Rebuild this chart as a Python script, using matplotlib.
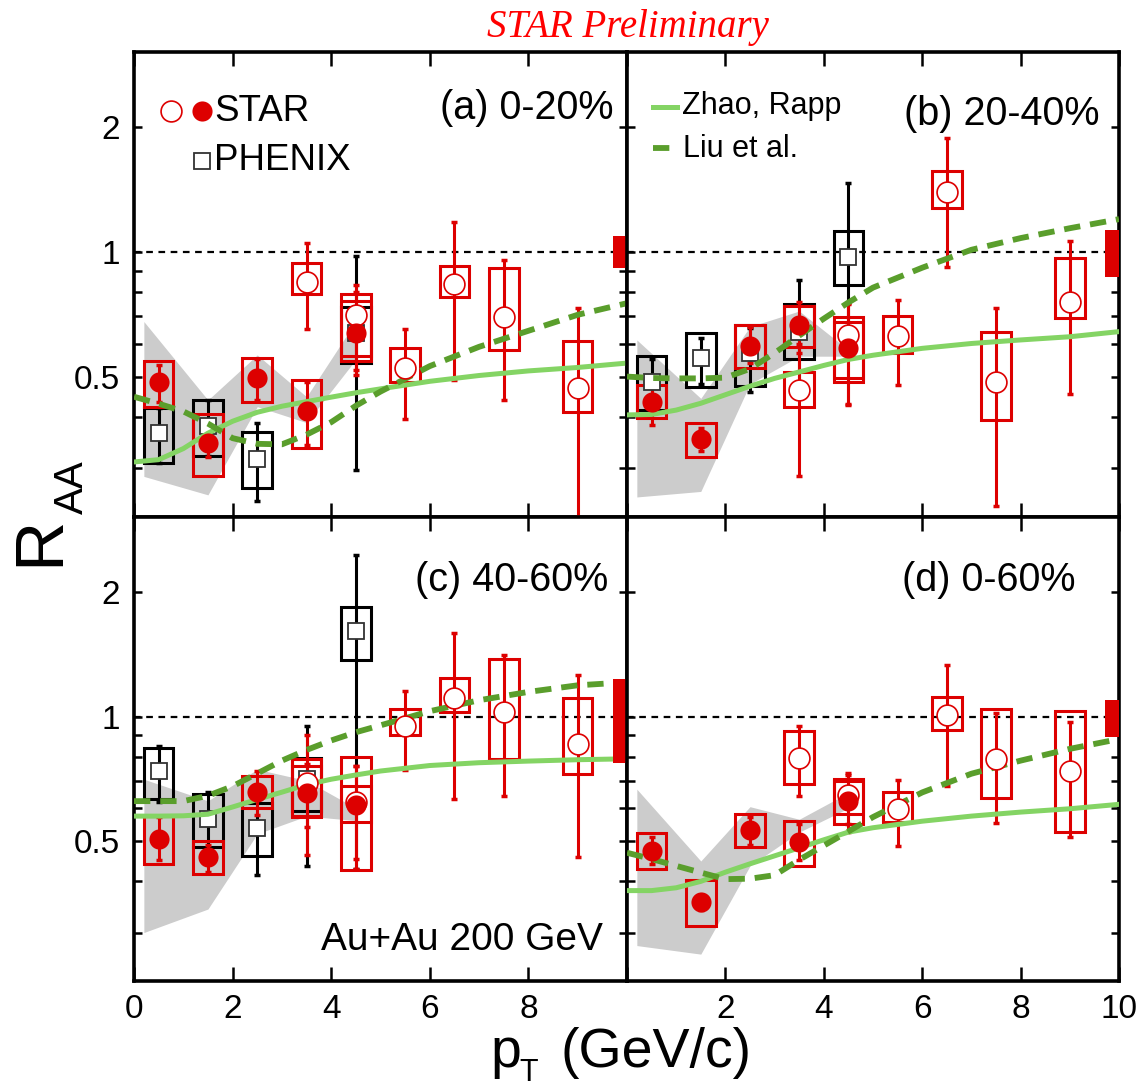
import matplotlib
matplotlib.use("Agg")
import matplotlib.pyplot as plt
from matplotlib.patches import Rectangle
from matplotlib.ticker import NullLocator

plt.rcParams["font.family"] = ["Liberation Sans", "DejaVu Sans"]

RED = "#dd0000"
GREEN_ZR = "#84d464"
GREEN_LIU = "#5a9e2c"
GRAY = "#cccccc"

# pT bins
pt_fill = [0.5, 1.5, 2.5, 3.5, 4.5]
pt_open = [3.5, 4.5, 5.5, 6.5, 7.5, 9.0]
pt_phenix = [0.5, 1.5, 2.5, 3.5, 4.5]
pt_phenix_a = [0.5, 1.5, 2.5, 4.5]
band_pt = [0.2, 1.5, 2.5, 3.5, 4.5]
theory_pt = [0, 0.5, 1, 1.5, 2, 2.5, 3, 3.5, 4, 4.5, 5, 6, 7, 8, 9, 10]

# (a) 0-20%
a_fill = [0.485, 0.346, 0.496, 0.414, 0.638]
a_fill_stat = [(0.435, 0.534), (0.320, 0.375), (0.44, 0.55), (0.342, 0.486), (0.504, 0.832)]
a_fill_sys = [(0.423, 0.544), (0.288, 0.406), (0.435, 0.553), (0.337, 0.491), (0.544, 0.790)]
a_open = [0.848, 0.704, 0.523, 0.836, 0.698, 0.470]
a_open_stat = [(0.65, 1.05), (0.52, 0.80), (0.395, 0.652), (0.491, 1.18), (0.439, 0.956), (0.20, 0.731)]
a_open_sys = [(0.790, 0.939), (0.56, 0.76), (0.484, 0.585), (0.780, 0.925), (0.580, 0.913), (0.410, 0.610)]
a_phenix = [0.365, 0.379, 0.317, 0.638]
a_phenix_stat = [(0.309, 0.419), (0.321, 0.439), (0.250, 0.386), (0.298, 0.978)]
a_phenix_sys = [(0.309, 0.419), (0.321, 0.439), (0.269, 0.368), (0.539, 0.738)]
a_band_lo = [0.287, 0.259, 0.423, 0.387, 0.55]
a_band_hi = [0.679, 0.439, 0.564, 0.447, 0.68]
a_zr = [0.311, 0.315, 0.335, 0.365, 0.39, 0.41, 0.424, 0.435, 0.446, 0.457, 0.467, 0.487, 0.503, 0.516, 0.526, 0.539]
a_liu = [0.447, 0.430, 0.412, 0.385, 0.355, 0.344, 0.343, 0.362, 0.388, 0.425, 0.46, 0.53, 0.59, 0.645, 0.705, 0.752]
a_global = (0.915, 1.093)

# (b) 20-40%
b_fill = [0.435, 0.353, 0.593, 0.667, 0.585]
b_fill_stat = [(0.382, 0.486), (0.330, 0.375), (0.54, 0.66), (0.570, 0.758), (0.427, 0.752)]
b_fill_sys = [(0.397, 0.477), (0.320, 0.386), (0.524, 0.667), (0.590, 0.740), (0.486, 0.698)]
b_open = [0.464, 0.630, 0.627, 1.398, 0.486, 0.758]
b_open_stat = [(0.287, 0.60), (0.43, 0.75), (0.477, 0.766), (0.921, 1.882), (0.243, 0.731), (0.454, 1.065)]
b_open_sys = [(0.423, 0.514), (0.496, 0.679), (0.570, 0.701), (1.275, 1.572), (0.393, 0.641), (0.692, 0.966)]
b_phenix = [0.486, 0.553, 0.57, 0.642, 0.974]
b_phenix_stat = [(0.43, 0.55), (0.48, 0.62), (0.459, 0.655), (0.445, 0.856), (0.62, 1.465)]
b_phenix_sys = [(0.415, 0.561), (0.472, 0.636), (0.475, 0.667), (0.551, 0.749), (0.832, 1.126)]
b_band_lo = [0.256, 0.264, 0.48, 0.56, 0.56]
b_band_hi = [0.613, 0.443, 0.66, 0.72, 0.58]
b_zr = [0.404, 0.405, 0.415, 0.431, 0.452, 0.474, 0.495, 0.513, 0.532, 0.55, 0.563, 0.585, 0.601, 0.613, 0.624, 0.642]
b_liu = [0.5, 0.496, 0.495, 0.495, 0.497, 0.522, 0.57, 0.628, 0.69, 0.755, 0.82, 0.916, 1.012, 1.08, 1.141, 1.2]
b_global = (0.872, 1.13)

# (c) 40-60%
c_fill = [0.506, 0.456, 0.658, 0.654, 0.610]
c_fill_stat = [(0.45, 0.57), (0.42, 0.49), (0.577, 0.738), (0.539, 0.766), (0.453, 0.758)]
c_fill_sys = [(0.439, 0.574), (0.415, 0.500), (0.602, 0.718), (0.572, 0.758), (0.554, 0.679)]
c_open = [0.69, 0.62, 0.951, 1.110, 1.026, 0.856]
c_open_stat = [(0.462, 0.904), (0.427, 0.76), (0.742, 1.151), (0.633, 1.592), (0.641, 1.411), (0.456, 1.258)]
c_open_sys = [(0.574, 0.788), (0.425, 0.80), (0.902, 1.044), (1.024, 1.240), (0.787, 1.379), (0.727, 1.110)]
c_phenix = [0.738, 0.564, 0.538, 0.705, 1.607]
c_phenix_stat = [(0.62, 0.848), (0.48, 0.656), (0.413, 0.63), (0.435, 0.951), (0.427, 2.46)]
c_phenix_sys = [(0.63, 0.84), (0.482, 0.648), (0.46, 0.616), (0.591, 0.795), (1.37, 1.84)]
c_band_lo = [0.30, 0.342, 0.52, 0.574, 0.56]
c_band_hi = [0.705, 0.625, 0.745, 0.70, 0.60]
c_zr = [0.574, 0.574, 0.575, 0.58, 0.604, 0.63, 0.656, 0.684, 0.705, 0.722, 0.738, 0.761, 0.773, 0.78, 0.786, 0.79]
c_liu = [0.624, 0.624, 0.624, 0.643, 0.678, 0.728, 0.782, 0.83, 0.875, 0.916, 0.952, 1.03, 1.095, 1.147, 1.19, 1.21]
c_global = (0.77, 1.23)

# (d) 0-60%
d_fill = [0.473, 0.356, 0.530, 0.498, 0.624]
d_fill_stat = [(0.44, 0.51), (0.34, 0.37), (0.49, 0.57), (0.45, 0.55), (0.524, 0.731)]
d_fill_sys = [(0.427, 0.521), (0.312, 0.402), (0.482, 0.580), (0.434, 0.559), (0.548, 0.705)]
d_open = [0.795, 0.644, 0.596, 1.006, 0.788, 0.74]
d_open_stat = [(0.641, 0.951), (0.55, 0.72), (0.486, 0.701), (0.679, 1.335), (0.553, 1.02), (0.510, 0.969)]
d_open_sys = [(0.685, 0.922), (0.58, 0.70), (0.556, 0.656), (0.930, 1.116), (0.634, 1.04), (0.524, 1.03)]
d_band_lo = [0.279, 0.266, 0.435, 0.525, 0.60]
d_band_hi = [0.667, 0.447, 0.605, 0.564, 0.654]
d_zr = [0.379, 0.379, 0.385, 0.399, 0.42, 0.44, 0.46, 0.481, 0.503, 0.525, 0.538, 0.558, 0.574, 0.587, 0.598, 0.613]
d_liu = [0.468, 0.452, 0.435, 0.419, 0.404, 0.405, 0.413, 0.45, 0.487, 0.527, 0.571, 0.655, 0.727, 0.782, 0.835, 0.882]
d_global = (0.893, 1.099)

panel_labels = ["(a) 0-20%", "(b) 20-40%", "(c) 40-60%", "(d) 0-60%"]


def draw_series(ax, pts, vals, stat, sys, color, marker, mfc, ms, mew, z, mec=None):
    for x, (lo, hi) in zip(pts, sys):
        ax.add_patch(Rectangle((x - 0.3, lo), 0.6, hi - lo, fill=False,
                               ec=color, lw=2.2, zorder=z))
    yerr = [[v - s[0] for v, s in zip(vals, stat)],
            [s[1] - v for v, s in zip(vals, stat)]]
    ax.errorbar(pts, vals, yerr=yerr, fmt="none", ecolor=color,
                elinewidth=2.2, capsize=2.5, capthick=2.5, zorder=z)
    ax.plot(pts, vals, ls="none", marker=marker, ms=ms, mfc=mfc,
            mec=mec or color, mew=mew, zorder=z + 3)


def setup(ax, xlabels, show_y):
    ax.set_yscale("log")
    ax.set_xlim(0, 10)
    ax.set_ylim(0.229, 3.04)
    yt = [0.3, 0.4, 0.5, 0.6, 0.7, 0.8, 0.9, 1, 2]
    ax.set_yticks(yt)
    ax.yaxis.set_minor_locator(NullLocator())
    names = {0.5: "0.5", 1: "1", 2: "2"}
    if show_y:
        ax.set_yticklabels([names.get(t, "") for t in yt])
    else:
        ax.set_yticklabels([])
    ax.set_xticks([0, 2, 4, 6, 8, 10])
    ax.set_xticklabels(xlabels)
    ax.tick_params(axis="x", direction="in", top=True, bottom=True, length=10,
                   width=1.8, labelsize=24, pad=9)
    ax.tick_params(axis="y", direction="in", left=True, right=True, length=6,
                   width=1.8, labelsize=24, pad=10)
    for s in ax.spines.values():
        s.set_linewidth(2.6)


fig = plt.figure(figsize=(11.45, 10.9), dpi=100)
W, H = 1145.0, 1090.0
ax_a = fig.add_axes([134 / W, 1 - 517 / H, 493 / W, 465 / H])
ax_b = fig.add_axes([627 / W, 1 - 517 / H, 492 / W, 465 / H])
ax_c = fig.add_axes([134 / W, 1 - 981 / H, 493 / W, 464 / H])
ax_d = fig.add_axes([627 / W, 1 - 981 / H, 492 / W, 464 / H])

panels = [
    (ax_a, a_fill, a_fill_stat, a_fill_sys, a_open, a_open_stat, a_open_sys,
     pt_phenix_a, a_phenix, a_phenix_stat, a_phenix_sys, a_band_lo, a_band_hi, a_zr, a_liu, a_global),
    (ax_b, b_fill, b_fill_stat, b_fill_sys, b_open, b_open_stat, b_open_sys,
     pt_phenix, b_phenix, b_phenix_stat, b_phenix_sys, b_band_lo, b_band_hi, b_zr, b_liu, b_global),
    (ax_c, c_fill, c_fill_stat, c_fill_sys, c_open, c_open_stat, c_open_sys,
     pt_phenix, c_phenix, c_phenix_stat, c_phenix_sys, c_band_lo, c_band_hi, c_zr, c_liu, c_global),
    (ax_d, d_fill, d_fill_stat, d_fill_sys, d_open, d_open_stat, d_open_sys,
     [], [], [], [], d_band_lo, d_band_hi, d_zr, d_liu, d_global),
]

for (ax, fv, fst, fsy, ov, ost, osy, ppt, pv, pst, psy, blo, bhi, zr, liu, glob) in panels:
    ax.fill_between(band_pt, blo, bhi, color=GRAY, lw=0, zorder=1)
    ax.axhline(1, color="black", lw=1.6, ls=(0, (3, 2.5)), zorder=1.5)
    if ppt:
        draw_series(ax, ppt, pv, pst, psy, "black", "s", "white", 12, 1.3, 3, mec="#333333")
    draw_series(ax, pt_open, ov, ost, osy, RED, "o", "white", 15, 1.2, 4)
    draw_series(ax, pt_fill, fv, fst, fsy, RED, "o", RED, 14.5, 0, 5)
    ax.plot(theory_pt, zr, color=GREEN_ZR, lw=3.6, zorder=6)
    ax.plot(theory_pt, liu, color=GREEN_LIU, lw=4.2, ls=(0, (2.8, 1.7)), zorder=6)
    ax.add_patch(Rectangle((9.72, glob[0]), 0.28, glob[1] - glob[0], fc=RED,
                           ec="none", zorder=9))

setup(ax_a, [], True)
setup(ax_b, [], False)
setup(ax_c, ["0", "2", "4", "6", "8", ""], True)
setup(ax_d, ["", "2", "4", "6", "8", "10"], False)

# panel labels
ax_a.text(0.972, 0.88, panel_labels[0], transform=ax_a.transAxes, ha="right", va="center", fontsize=28.5)
ax_b.text(0.961, 0.867, panel_labels[1], transform=ax_b.transAxes, ha="right", va="center", fontsize=28.5)
ax_c.text(0.961, 0.864, panel_labels[2], transform=ax_c.transAxes, ha="right", va="center", fontsize=28.5)
ax_d.text(0.911, 0.864, panel_labels[3], transform=ax_d.transAxes, ha="right", va="center", fontsize=28.5)
ax_c.text(0.951, 0.088, "Au+Au 200 GeV", transform=ax_c.transAxes, ha="right", va="center", fontsize=28)

# legend (a)
ax_a.plot([0.0744], [0.873], transform=ax_a.transAxes, marker="o", ms=15, mfc="white",
          mec=RED, mew=1.2, clip_on=False, zorder=10)
ax_a.plot([0.137], [0.873], transform=ax_a.transAxes, marker="o", ms=14.5, mfc=RED,
          mec=RED, mew=0, clip_on=False, zorder=10)
ax_a.text(0.162, 0.873, "STAR", transform=ax_a.transAxes, ha="left", va="center", fontsize=26.5)
ax_a.plot([0.137], [0.766], transform=ax_a.transAxes, marker="s", ms=12, mfc="white",
          mec="#333333", mew=1.3, clip_on=False, zorder=10)
ax_a.text(0.162, 0.766, "PHENIX", transform=ax_a.transAxes, ha="left", va="center", fontsize=26.5)

# legend (b)
ax_b.plot([0.053, 0.102], [0.882, 0.882], transform=ax_b.transAxes, color=GREEN_ZR, lw=3.6)
ax_b.text(0.111, 0.884, "Zhao, Rapp", transform=ax_b.transAxes, ha="left", va="center", fontsize=22)
ax_b.plot([0.053, 0.102], [0.794, 0.794], transform=ax_b.transAxes, color=GREEN_LIU, lw=4.2,
          ls=(0, (2.8, 1.7)))
ax_b.text(0.113, 0.792, "Liu et al.", transform=ax_b.transAxes, ha="left", va="center", fontsize=22)

# axis titles
fig.text(40 / W, 1 - 541 / H, "R", rotation=90, ha="center", va="center", fontsize=50)
fig.text(72 / W, 1 - 487 / H, "AA", rotation=90, ha="center", va="center", fontsize=29)
fig.text(490 / W, 1 - 1067 / H, "p", ha="left", va="baseline", fontsize=40)
fig.text(519 / W, 1 - 1081 / H, "T", ha="left", va="baseline", fontsize=22)
fig.text(561 / W, 1 - 1067 / H, "(GeV/c)", ha="left", va="baseline", fontsize=40)
fig.text(628 / W, 1 - 37 / H, "STAR Preliminary", ha="center", va="baseline", fontsize=28,
         color="red", style="italic", family="Liberation Serif")

fig.savefig("out.png", dpi=100)
